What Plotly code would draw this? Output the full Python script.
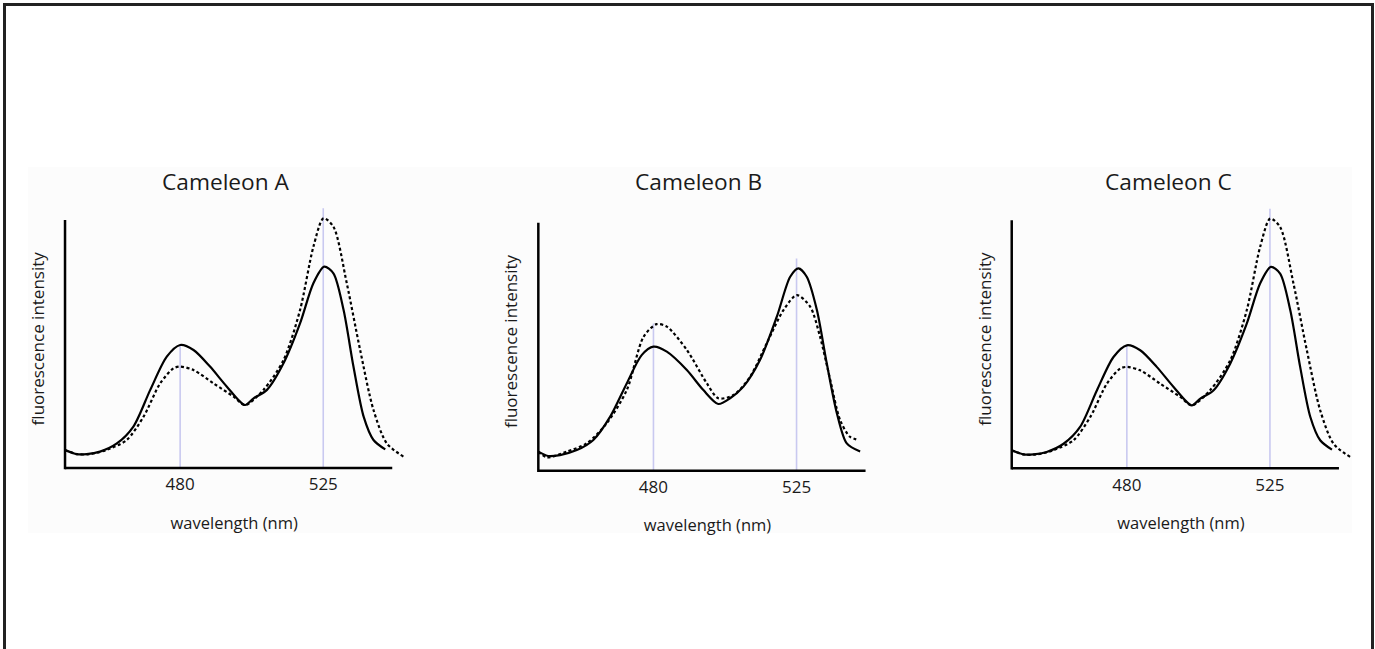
import plotly.graph_objects as go

# ---------------- data ----------------
panel_titles = ["Cameleon A", "Cameleon B", "Cameleon C"]
tick_values = [480, 525]
tick_labels = ["480", "525"]
x_title = "wavelength (nm)"
y_title = "fluorescence intensity"

# Cameleon A
wl_A_solid = [443.8, 447.5, 450.6, 454.8, 460.1, 465.3, 470.6, 475.8, 480.0, 484.2, 489.4, 494.7,
              500.4, 503.1, 507.3, 512.5, 517.7, 521.9, 525.3, 528.2, 531.4, 534.5, 537.7, 540.8, 544.5]
int_A_solid = [7.3, 5.6, 5.6, 6.6, 9.9, 16.7, 31.5, 44.9, 49.6, 47.6, 40.9, 32.8,
               25.4, 28.1, 31.5, 42.2, 58.3, 74.5, 81.2, 78.5, 63.7, 40.9, 20.7, 11.3, 7.5]
wl_A_dash = [443.8, 447.5, 451.7, 456.9, 463.2, 468.5, 473.7, 477.9, 480.0, 484.2, 490.5, 496.8,
             500.4, 506.2, 512.5, 517.7, 521.9, 525.1, 528.2, 532.4, 536.6, 540.8, 545.0, 550.2]
int_A_dash = [7.3, 5.6, 5.6, 7.3, 11.3, 20.7, 34.1, 40.2, 40.9, 39.5, 34.1, 28.8,
              25.4, 31.5, 43.5, 63.7, 89.2, 100.7, 97.3, 74.5, 47.6, 23.4, 9.9, 4.6]
marker_top_A = [49.6, 104.7]

# Cameleon B
wl_B_solid = [443.8, 447.0, 450.6, 455.9, 461.1, 466.4, 471.6, 476.3, 480.0, 484.2, 490.5, 495.7,
              500.4, 504.1, 508.3, 513.5, 518.8, 523.0, 525.6, 528.2, 531.4, 534.5, 537.7, 540.8, 545.0]
int_B_solid = [7.7, 5.9, 6.3, 8.3, 12.4, 21.8, 35.2, 46.6, 50.0, 48.0, 40.6, 32.5,
               26.9, 29.2, 33.9, 44.6, 62.1, 78.2, 81.6, 78.2, 64.8, 43.3, 23.1, 11.0, 7.7]
wl_B_dash = [443.8, 446.5, 452.8, 459.0, 465.3, 471.6, 476.9, 481.0, 484.2, 490.5, 496.8,
             500.4, 505.2, 510.4, 515.6, 520.9, 525.1, 529.3, 532.4, 535.6, 538.7, 541.8, 544.5]
int_B_dash = [7.7, 5.4, 7.7, 11.0, 19.1, 32.5, 54.0, 59.1, 58.1, 48.7, 35.2,
              29.2, 30.5, 37.9, 51.3, 64.8, 70.8, 66.1, 54.0, 36.6, 20.4, 13.7, 12.4]
marker_top_B = [59.4, 85.6]

# Cameleon C
wl_C_solid = [443.8, 447.5, 450.6, 454.8, 460.1, 465.3, 470.6, 475.8, 480.0, 484.2, 489.4, 494.7,
              500.4, 503.1, 507.3, 512.5, 517.7, 521.9, 525.3, 528.2, 531.4, 534.5, 537.7, 540.8, 544.5]
int_C_solid = [7.3, 5.6, 5.6, 6.6, 9.9, 16.7, 31.5, 44.9, 49.6, 47.6, 40.9, 32.8,
               25.4, 28.1, 31.5, 42.2, 58.3, 74.5, 81.2, 78.5, 63.7, 40.9, 20.7, 11.3, 7.5]
wl_C_dash = [443.8, 447.5, 451.7, 456.9, 463.2, 468.5, 473.7, 477.9, 480.0, 484.2, 490.5, 496.8,
             500.4, 506.2, 512.5, 517.7, 521.9, 525.1, 528.2, 532.4, 536.6, 540.8, 545.0, 550.2]
int_C_dash = [7.3, 5.6, 5.6, 7.3, 11.3, 20.7, 34.1, 40.2, 40.9, 39.5, 34.1, 28.8,
              25.4, 31.5, 43.5, 63.7, 89.2, 100.7, 97.3, 74.5, 47.6, 23.4, 9.9, 4.6]
marker_top_C = [49.6, 104.7]

axis_x_min, axis_x_max = 443.8, 546.7
axis_y_top = 100

# ---------------- figure ----------------
W, H = 1375, 649
FONT = "Open Sans"
TXT = "#1a1a1a"
LAV = "#c9c9f0"

panels = [
    dict(title=panel_titles[0], ws=wl_A_solid, is_=int_A_solid, wd=wl_A_dash, id_=int_A_dash,
         mt=marker_top_A, xdom=[0.04313, 0.29753], ydom=[0.27202, 0.68392], tx=226.3),
    dict(title=panel_titles[1], ws=wl_B_solid, is_=int_B_solid, wd=wl_B_dash, id_=int_B_dash,
         mt=marker_top_B, xdom=[0.38735, 0.64175], ydom=[0.26786, 0.67976], tx=698.7),
    dict(title=panel_titles[2], ws=wl_C_solid, is_=int_C_solid, wd=wl_C_dash, id_=int_C_dash,
         mt=marker_top_C, xdom=[0.73164, 0.98604], ydom=[0.27156, 0.68346], tx=1168.7),
]

fig = go.Figure()
shapes = []
annotations = []

# faint background band and outer border
shapes.append(dict(type="rect", xref="paper", yref="paper", x0=28 / W, x1=1352 / W,
                   y0=1 - 533 / H, y1=1 - 167 / H, fillcolor="#fcfcfc", line=dict(width=0),
                   layer="below"))
shapes.append(dict(type="rect", xref="paper", yref="paper", x0=4.5 / W, x1=1372.5 / W,
                   y0=-0.05, y1=1 - 4.5 / H, fillcolor="rgba(0,0,0,0)",
                   line=dict(color="#222222", width=3), layer="above"))

for i, p in enumerate(panels):
    n = "" if i == 0 else str(i + 1)
    xa, ya = "x" + n, "y" + n
    # marker lines
    for wv, top in zip(tick_values, p["mt"]):
        shapes.append(dict(type="line", xref=xa, yref=ya, x0=wv, x1=wv, y0=0, y1=top,
                           line=dict(color=LAV, width=1.6), layer="below"))
    # axis lines
    shapes.append(dict(type="line", xref=xa, yref=ya, x0=axis_x_min, x1=axis_x_max, y0=0, y1=0,
                       line=dict(color="black", width=2.5), layer="above"))
    shapes.append(dict(type="line", xref=xa, yref=ya, x0=axis_x_min, x1=axis_x_min, y0=-0.5,
                       y1=axis_y_top, line=dict(color="black", width=2.5), layer="above"))
    fig.add_trace(go.Scatter(x=p["wd"], y=p["id_"], mode="lines", xaxis=xa, yaxis=ya,
                             line=dict(color="black", width=2.2, dash="3px,2.5px", shape="spline",
                                       smoothing=0.8),
                             showlegend=False, hoverinfo="skip"))
    fig.add_trace(go.Scatter(x=p["ws"], y=p["is_"], mode="lines", xaxis=xa, yaxis=ya,
                             line=dict(color="black", width=2.2, shape="spline", smoothing=0.8),
                             showlegend=False, hoverinfo="skip"))
    annotations.append(dict(text=p["title"], xref="paper", yref="paper", x=p["tx"] / W,
                            y=1 - 181 / H, xanchor="center", yanchor="middle", showarrow=False,
                            font=dict(family=FONT, size=22.7, color=TXT)))
    fig.layout["xaxis" + n] = dict(domain=p["xdom"], range=[442, 552], anchor=ya,
                                   tickvals=tick_values, ticktext=tick_labels, ticks="",
                                   showgrid=False, zeroline=False, showline=False,
                                   tickfont=dict(family=FONT, size=17, color=TXT),
                                   title=dict(text=x_title, standoff=22,
                                              font=dict(family=FONT, size=16.5, color=TXT)),
                                   fixedrange=True)
    fig.layout["yaxis" + n] = dict(domain=p["ydom"], range=[-1.8, 106], anchor=xa,
                                   showticklabels=False, ticks="", showgrid=False,
                                   zeroline=False, showline=False,
                                   title=dict(text=y_title, standoff=9,
                                              font=dict(family=FONT, size=17, color=TXT)),
                                   fixedrange=True)

fig.update_layout(width=W, height=H, margin=dict(l=0, r=0, t=0, b=0),
                  paper_bgcolor="white", plot_bgcolor="rgba(0,0,0,0)",
                  shapes=shapes, annotations=annotations, showlegend=False)

fig.write_html("out.html", config={"displayModeBar": False},
               post_script="document.body.style.margin='0';document.body.style.overflow='hidden';")
